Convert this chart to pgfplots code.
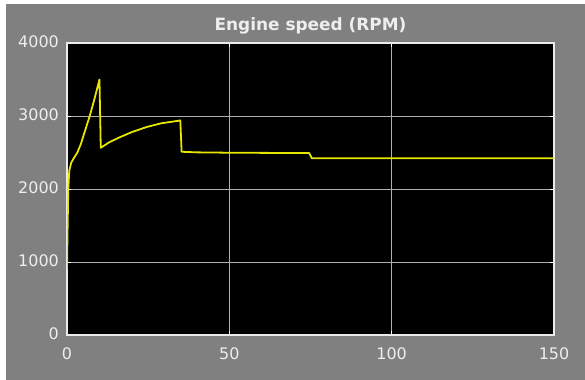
\documentclass[border=0pt]{standalone}
\usepackage{pgfplots}
\pgfplotsset{compat=1.18}
\usepackage{fontspec}
\setmainfont{DejaVu Sans}
\definecolor{bggray}{RGB}{128,128,128}
\definecolor{framecol}{RGB}{235,235,235}
\definecolor{gridcol}{RGB}{175,175,175}
\definecolor{labelcol}{RGB}{238,238,238}
\definecolor{lineyel}{RGB}{230,230,0}
\begin{document}
\begin{tikzpicture}
\useasboundingbox (0bp,0bp) rectangle (585bp,380bp);
\fill[bggray] (6bp,0bp) rectangle (585bp,376bp);
\begin{axis}[
  at={(67bp,45bp)}, anchor=south west,
  scale only axis, width=487bp, height=292bp,
  xmin=0, xmax=150, ymin=0, ymax=4000,
  xtick={0,50,100,150}, ytick={0,1000,2000,3000,4000},
  axis background/.style={fill=black},
  axis line style={draw=framecol, line width=1.2pt},
  grid=major,
  major grid style={draw=gridcol, line width=0.6pt},
  tick style={draw=white, line width=0.8pt},
  major tick length=4bp,
  scaled y ticks=false,
  /pgf/number format/assume math mode=true,
  /pgf/number format/1000 sep={},
  ticklabel style={text=labelcol, font=\fontsize{16}{16}\selectfont, inner sep=0pt},
  xticklabel style={anchor=base, yshift=-25bp},
  yticklabel style={anchor=base east, xshift=-8bp, yshift=-4.5bp},
  title={Engine speed (RPM)},
  title style={anchor=base, yshift=7bp, text=labelcol, font=\fontsize{17}{17}\selectfont\bfseries, inner sep=0pt},
]
\addplot[color=lineyel, line width=1.8pt, line join=round] coordinates {
(0,900) (0.2,1500) (0.4,2000) (0.7,2250) (1.3,2360) (2.2,2430) (3.2,2500)
(4.3,2620) (5.5,2790) (7,3000) (8.5,3240) (10,3500) (10.4,2565) (13,2640)
(16.4,2712) (20,2780) (24.6,2850) (29,2900) (33.9,2932) (34.9,2940)
(35.3,2510) (40,2502) (50,2497) (60,2495) (74.6,2492) (75.4,2422)
(80,2420) (150,2420)
};
\end{axis}
\end{tikzpicture}
\end{document}
